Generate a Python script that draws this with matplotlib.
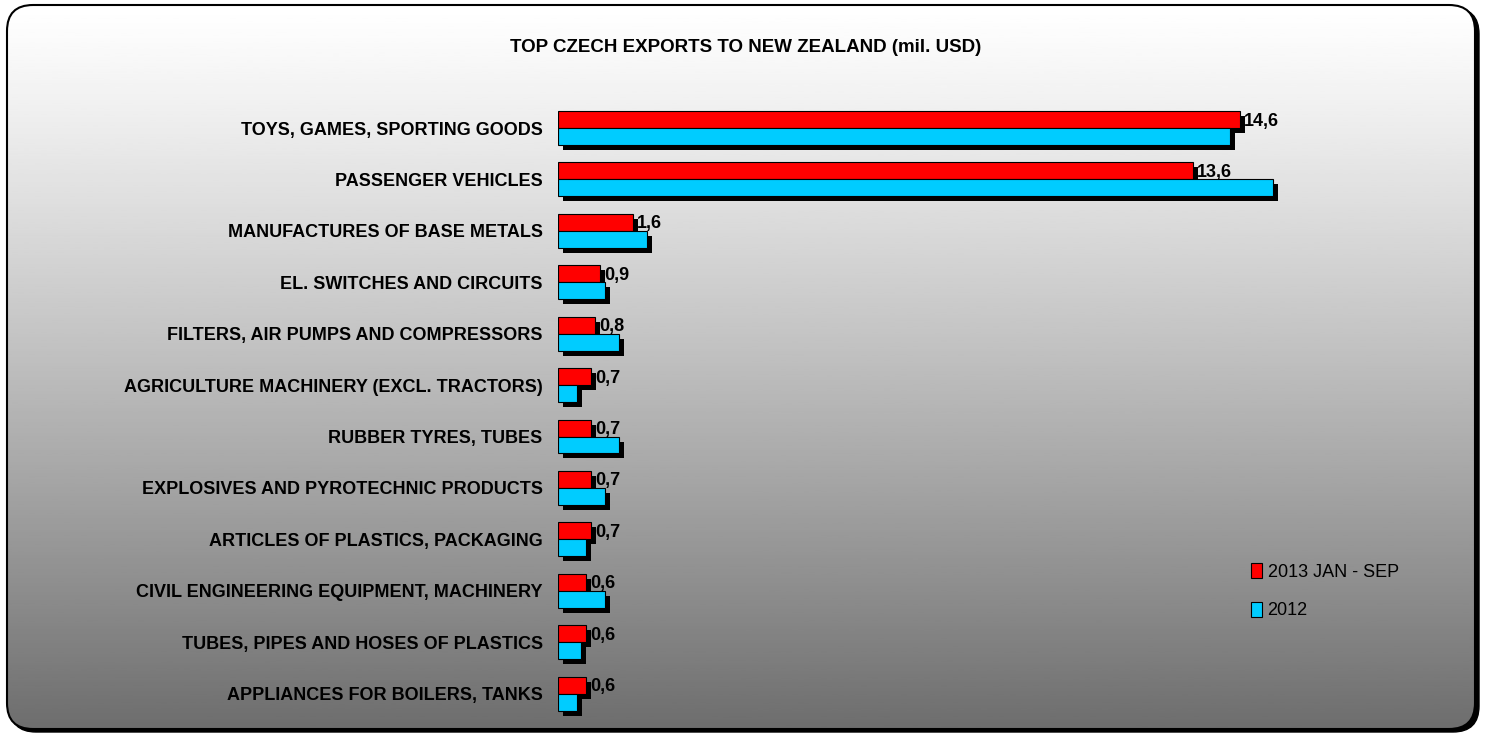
import numpy as np
import matplotlib
matplotlib.use("Agg")
import matplotlib.pyplot as plt
from matplotlib import patheffects
from matplotlib.patches import FancyBboxPatch, Patch

plt.rcParams['font.family'] = ['Liberation Sans Narrow', 'Liberation Sans', 'DejaVu Sans']

categories = [
    "TOYS, GAMES, SPORTING GOODS",
    "PASSENGER VEHICLES",
    "MANUFACTURES OF BASE METALS",
    "EL. SWITCHES AND CIRCUITS",
    "FILTERS, AIR PUMPS AND COMPRESSORS",
    "AGRICULTURE MACHINERY (EXCL. TRACTORS)",
    "RUBBER TYRES, TUBES",
    "EXPLOSIVES AND PYROTECHNIC PRODUCTS",
    "ARTICLES OF PLASTICS, PACKAGING",
    "CIVIL ENGINEERING EQUIPMENT, MACHINERY",
    "TUBES, PIPES AND HOSES OF PLASTICS",
    "APPLIANCES FOR BOILERS, TANKS",
]
exports_2013 = [14.6, 13.6, 1.6, 0.9, 0.8, 0.7, 0.7, 0.7, 0.7, 0.6, 0.6, 0.6]
exports_2012 = [14.4, 15.3, 1.9, 1.0, 1.3, 0.4, 1.3, 1.0, 0.6, 1.0, 0.5, 0.4]
series_names = ["2013 JAN - SEP", "2012"]

RED = "#ff0000"
CYAN = "#00ccff"

W, H = 1485, 736
fig = plt.figure(figsize=(W / 100, H / 100), dpi=100)
fig.patch.set_facecolor("white")

# rounded frame with grey gradient and black drop shadow
bg = fig.add_axes([0, 0, 1, 1], zorder=-1)
bg.set_xlim(0, W)
bg.set_ylim(H, 0)
bg.axis("off")
box = dict(boxstyle="round,pad=0,rounding_size=26")
shadow = FancyBboxPatch((10, 8), W - 16, H - 12, fc="black", ec="black", lw=1, **box)
bg.add_patch(shadow)
frame = FancyBboxPatch((7, 5), W - 17, H - 12, fc="none", ec="black", lw=1.5, zorder=3, **box)
bg.add_patch(frame)
grad = np.linspace(0, 1, 256).reshape(-1, 1)
grad = 1.0 - 0.57 * grad ** 1.15
img = bg.imshow(grad, cmap="gray", vmin=0, vmax=1, aspect="auto",
                extent=(7, W - 10, H - 7, 5), zorder=2)
img.set_clip_path(frame)

# bar area
left, right = 558, 1400
top, bottom = 102.3, 719.3
ax = fig.add_axes([left / W, 1 - bottom / H, (right - left) / W, (bottom - top) / H])
ax.set_facecolor("none")
ax.set_xlim(0, (right - left) / 46.7)
ax.set_ylim(len(categories) - 0.5, -0.5)
for s in ax.spines.values():
    s.set_visible(False)
ax.set_xticks([])
ax.set_yticks(range(len(categories)))
ax.set_yticklabels(categories, fontsize=13, fontweight="bold")
ax.tick_params(axis="y", length=0, pad=11)

y = np.arange(len(categories))
bh = 0.33
fx = [patheffects.SimplePatchShadow(offset=(3.6, -3.6), shadow_rgbFace="black", alpha=1.0),
      patheffects.Normal()]
bars_red = ax.barh(y - bh / 2, exports_2013, height=bh, color=RED, edgecolor="black",
                   linewidth=0.8, zorder=2)
bars_cyan = ax.barh(y + bh / 2, exports_2012, height=bh, color=CYAN, edgecolor="black",
                    linewidth=0.8, zorder=3)
for b in list(bars_red) + list(bars_cyan):
    b.set_path_effects(fx)

# value labels next to the 2013 bars
for yi, v in zip(y, exports_2013):
    ax.text(v + 0.09, yi - bh / 2 + 0.03, f"{v:.1f}".replace(".", ","), fontsize=13,
            fontweight="bold", ha="left", va="center", zorder=5)

fig.text(746 / W, 1 - 47 / H, "TOP CZECH EXPORTS TO NEW ZEALAND (mil. USD)",
         fontsize=13.5, fontweight="bold", ha="center", va="center")

handles = [Patch(facecolor=RED, edgecolor="black", lw=0.8),
           Patch(facecolor=CYAN, edgecolor="black", lw=0.8)]
fig.legend(handles, series_names, loc="upper left", bbox_to_anchor=(1235 / W, 1 - 547 / H),
           frameon=False, fontsize=13, handlelength=0.6, handleheight=0.9,
           handletextpad=0.3, labelspacing=1.15)

fig.savefig("out.png", dpi=100)
